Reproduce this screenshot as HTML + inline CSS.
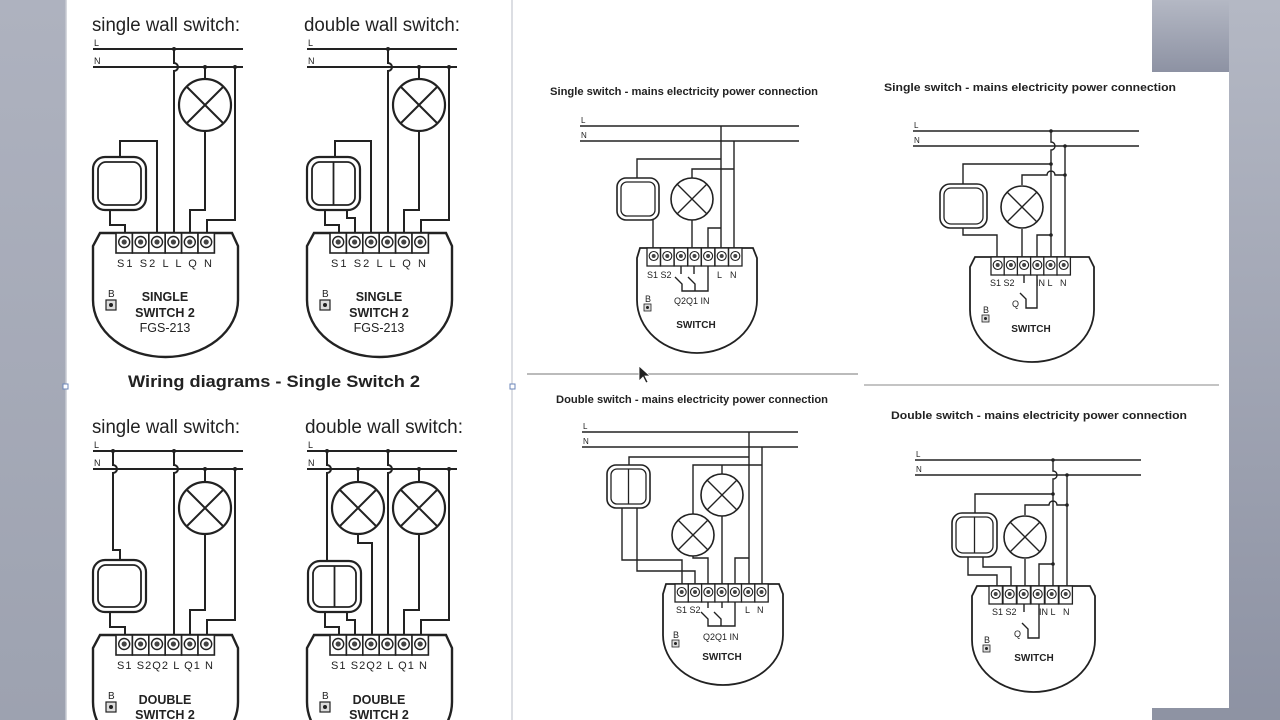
<!DOCTYPE html>
<html><head><meta charset="utf-8"><style>
html,body{margin:0;padding:0;width:1280px;height:720px;overflow:hidden;background:#fff}
#wrap{width:1280px;height:720px;overflow:hidden;position:relative}
svg{display:block;overflow:hidden}
text{font-family:"Liberation Sans",Arial,sans-serif;fill:#222}
.w{fill:none;stroke:#222;stroke-width:2}
.t{fill:none;stroke:#222;stroke-width:1.4}
.m{fill:#fff;stroke:#222;stroke-width:2.4}
.n{fill:#fff;stroke:#222;stroke-width:1.8}
</style></head><body><div id="wrap">
<svg width="1280" height="720" viewBox="0 0 1280 720" xmlns="http://www.w3.org/2000/svg">
<defs>
<clipPath id="cp"><rect x="0" y="0" width="1280" height="720"/></clipPath>
<linearGradient id="gl" x1="0" y1="0" x2="0" y2="1"><stop offset="0" stop-color="#aeb2bf"/><stop offset="1" stop-color="#9da2b0"/></linearGradient>
<linearGradient id="gr" x1="0" y1="0" x2="0" y2="1"><stop offset="0" stop-color="#b4b8c4"/><stop offset="1" stop-color="#8d92a3"/></linearGradient>
<g id="lampL"><circle r="26" fill="#fff" stroke="#222" stroke-width="2.2"/><path d="M-18,-18L18,18M18,-18L-18,18" stroke="#222" stroke-width="2"/></g>
<g id="lampS"><circle r="21" fill="#fff" stroke="#222" stroke-width="1.6"/><path d="M-15,-15L15,15M15,-15L-15,15" stroke="#222" stroke-width="1.4"/></g>
<g id="cellL"><rect x="0" y="0" width="16.4" height="20" fill="#fff" stroke="#222" stroke-width="1.6"/><circle cx="8.2" cy="9" r="5.5" fill="none" stroke="#222" stroke-width="1.4"/><circle cx="8.2" cy="9" r="2.6" fill="#444"/></g>
<g id="cellS"><rect x="0" y="0" width="13.4" height="18" fill="#fff" stroke="#222" stroke-width="1.3"/><circle cx="6.7" cy="8" r="4.5" fill="none" stroke="#222" stroke-width="1.1"/><circle cx="6.7" cy="8" r="2" fill="#444"/></g>
<g id="modL">
<path class="m" d="M100,233H232L238,246V300A72.5 57 0 0 1 93,300V246Z"/>
<use href="#cellL" x="116" y="233"/><use href="#cellL" x="132.4" y="233"/><use href="#cellL" x="148.8" y="233"/><use href="#cellL" x="165.2" y="233"/><use href="#cellL" x="181.6" y="233"/><use href="#cellL" x="198" y="233"/>
<text x="108" y="297" font-size="10">B</text>
<rect x="106" y="300" width="10" height="10" fill="#ddd" stroke="#222" stroke-width="1.2"/><circle cx="111" cy="305" r="2" fill="#222"/>
</g>
</defs>
<g clip-path="url(#cp)">
<rect x="0" y="0" width="66" height="720" fill="url(#gl)"/>
<rect x="1152" y="0" width="128" height="72" fill="url(#gr)"/>
<rect x="1229" y="0" width="51" height="720" fill="url(#gr)"/>
<rect x="1152" y="708" width="128" height="12" fill="#8e93a3"/>
<line x1="66" y1="0" x2="66" y2="720" stroke="#c7cad2" stroke-width="1.5"/>
<line x1="512" y1="0" x2="512" y2="720" stroke="#d0d3da" stroke-width="1.5"/>
<rect x="63" y="384" width="5" height="5" fill="#fff" stroke="#6b86b8"/>
<rect x="510" y="384" width="5" height="5" fill="#fff" stroke="#6b86b8"/>

<text x="92" y="31" font-size="19" textLength="148" lengthAdjust="spacingAndGlyphs">single wall switch:</text>
<text x="304" y="31" font-size="19" textLength="156" lengthAdjust="spacingAndGlyphs">double wall switch:</text>
<text x="128" y="387" font-size="17" font-weight="bold" textLength="292" lengthAdjust="spacingAndGlyphs">Wiring diagrams - Single Switch 2</text>
<text x="92" y="433" font-size="19" textLength="148" lengthAdjust="spacingAndGlyphs">single wall switch:</text>
<text x="305" y="433" font-size="19" textLength="158" lengthAdjust="spacingAndGlyphs">double wall switch:</text>

<g>
<text x="94" y="46" font-size="9">L</text><text x="94" y="64" font-size="9">N</text>
<path class="w" d="M93,49H243M93,67H243"/>
<path class="w" d="M174,49V63A4 4 0 0 1 174,71V233M205,67V79M205,131V210H190V233M235,67V220H207V233M120,157V141H157V233M110,210V225H125V233"/>
<circle cx="174" cy="49" r="2" fill="#222"/><circle cx="205" cy="67" r="2" fill="#222"/><circle cx="235" cy="67" r="2" fill="#222"/>
<use href="#lampL" x="205" y="105"/>
<rect x="93" y="157" width="53" height="53" rx="12" fill="#fff" stroke="#222" stroke-width="2.2"/>
<rect x="98" y="162" width="43" height="43" rx="8" fill="none" stroke="#222" stroke-width="1.8"/>
<use href="#modL"/>
<text x="117" y="267" font-size="11" textLength="95" lengthAdjust="spacing">S1 S2  L   L  Q  N</text>
<text x="165" y="301" font-size="12.5" font-weight="bold" text-anchor="middle">SINGLE</text>
<text x="165" y="317" font-size="12.5" font-weight="bold" text-anchor="middle">SWITCH 2</text>
<text x="165" y="332" font-size="12.5" text-anchor="middle">FGS-213</text>
</g>

<g>
<text x="308" y="46" font-size="9">L</text><text x="308" y="64" font-size="9">N</text>
<path class="w" d="M307,49H457M307,67H457"/>
<path class="w" d="M388,49V63A4 4 0 0 1 388,71V233M419,67V79M419,131V210H404V233M449,67V220H421V233M335,157V141H371V233M325,210V225H339V233M347,210V218H355V233"/>
<circle cx="388" cy="49" r="2" fill="#222"/><circle cx="419" cy="67" r="2" fill="#222"/><circle cx="449" cy="67" r="2" fill="#222"/>
<use href="#lampL" x="419" y="105"/>
<rect x="307" y="157" width="53" height="53" rx="12" fill="#fff" stroke="#222" stroke-width="2.2"/>
<rect x="312" y="162" width="43" height="43" rx="8" fill="none" stroke="#222" stroke-width="1.8"/>
<line x1="333.5" y1="162" x2="333.5" y2="205" stroke="#222" stroke-width="1.8"/>
<use href="#modL" x="214"/>
<text x="331" y="267" font-size="11" textLength="95" lengthAdjust="spacing">S1 S2  L   L  Q  N</text>
<text x="379" y="301" font-size="12.5" font-weight="bold" text-anchor="middle">SINGLE</text>
<text x="379" y="317" font-size="12.5" font-weight="bold" text-anchor="middle">SWITCH 2</text>
<text x="379" y="332" font-size="12.5" text-anchor="middle">FGS-213</text>
</g>

<g>
<text x="94" y="448" font-size="9">L</text><text x="94" y="466" font-size="9">N</text>
<path class="w" d="M93,451H243M93,469H243"/>
<path class="w" d="M113,451V465A4 4 0 0 1 113,473V550H120V560M174,451V465A4 4 0 0 1 174,473V635M205,469V482M205,534V610H190V635M235,469V620H207V635M110,611V627H125V635"/>
<circle cx="113" cy="451" r="2" fill="#222"/><circle cx="174" cy="451" r="2" fill="#222"/><circle cx="205" cy="469" r="2" fill="#222"/><circle cx="235" cy="469" r="2" fill="#222"/>
<use href="#lampL" x="205" y="508"/>
<rect x="93" y="560" width="53" height="52" rx="12" fill="#fff" stroke="#222" stroke-width="2.2"/>
<rect x="98" y="565" width="43" height="42" rx="8" fill="none" stroke="#222" stroke-width="1.8"/>
<use href="#modL" y="402"/>
<text x="117" y="669" font-size="11" textLength="96" lengthAdjust="spacing">S1 S2Q2 L Q1 N</text>
<text x="165" y="704" font-size="12.5" font-weight="bold" text-anchor="middle">DOUBLE</text>
<text x="165" y="719" font-size="12.5" font-weight="bold" text-anchor="middle">SWITCH 2</text>
</g>

<g>
<text x="308" y="448" font-size="9">L</text><text x="308" y="466" font-size="9">N</text>
<path class="w" d="M307,451H457M307,469H457"/>
<path class="w" d="M327,451V465A4 4 0 0 1 327,473V561M388,451V465A4 4 0 0 1 388,473V635M358,469V482M358,534V543H372V635M419,469V482M419,534V610H404V635M449,469V620H421V635M325,612V627H339V635M347,612V620H355V635"/>
<circle cx="327" cy="451" r="2" fill="#222"/><circle cx="388" cy="451" r="2" fill="#222"/><circle cx="358" cy="469" r="2" fill="#222"/><circle cx="419" cy="469" r="2" fill="#222"/><circle cx="449" cy="469" r="2" fill="#222"/>
<use href="#lampL" x="358" y="508"/><use href="#lampL" x="419" y="508"/>
<rect x="308" y="561" width="53" height="51" rx="12" fill="#fff" stroke="#222" stroke-width="2.2"/>
<rect x="313" y="566" width="43" height="41" rx="8" fill="none" stroke="#222" stroke-width="1.8"/>
<line x1="334.5" y1="566" x2="334.5" y2="607" stroke="#222" stroke-width="1.8"/>
<use href="#modL" x="214" y="402"/>
<text x="331" y="669" font-size="11" textLength="96" lengthAdjust="spacing">S1 S2Q2 L Q1 N</text>
<text x="379" y="704" font-size="12.5" font-weight="bold" text-anchor="middle">DOUBLE</text>
<text x="379" y="719" font-size="12.5" font-weight="bold" text-anchor="middle">SWITCH 2</text>
</g>

<line x1="527" y1="374" x2="858" y2="374" stroke="#777" stroke-width="1"/>
<line x1="864" y1="385" x2="1219" y2="385" stroke="#888" stroke-width="1"/>

<g>
<text x="550" y="95" font-size="11" font-weight="bold" textLength="268" lengthAdjust="spacingAndGlyphs">Single switch - mains electricity power connection</text>
<text x="581" y="123" font-size="8">L</text><text x="581" y="138" font-size="8">N</text>
<path class="t" d="M580,126H799M580,141H799"/>
<path class="t" d="M721,126V248M734,141V248M637,178V159H721M653,220V248M692,178V169H734M692,220V248M708,248V228H721"/>
<use href="#lampS" x="692" y="199"/>
<rect x="617" y="178" width="42" height="42" rx="9" fill="#fff" stroke="#222" stroke-width="1.6"/>
<rect x="621" y="182" width="34" height="34" rx="6" fill="none" stroke="#222" stroke-width="1.3"/>
<path class="n" d="M640,248H753L757,258V300A60 53 0 0 1 637,300V258Z"/>
<use href="#cellS" x="647" y="248"/><use href="#cellS" x="660.6" y="248"/><use href="#cellS" x="674.2" y="248"/><use href="#cellS" x="687.8" y="248"/><use href="#cellS" x="701.4" y="248"/><use href="#cellS" x="715" y="248"/><use href="#cellS" x="728.6" y="248"/>
<path class="t" d="M681,266V274M694,266V274M675,277L682,284V291H708V266M688,277L695,284V291"/>
<text x="647" y="278" font-size="9">S1 S2</text><text x="717" y="278" font-size="9">L</text><text x="730" y="278" font-size="9">N</text>
<text x="674" y="304" font-size="9">Q2Q1 IN</text>
<text x="645" y="302" font-size="9">B</text>
<rect x="644" y="304" width="7" height="7" fill="#ddd" stroke="#222" stroke-width="0.8"/><circle cx="647.5" cy="307.5" r="1.5" fill="#222"/>
<text x="696" y="328" font-size="10" font-weight="bold" text-anchor="middle">SWITCH</text>
</g>

<g>
<text x="884" y="91" font-size="11" font-weight="bold" textLength="292" lengthAdjust="spacingAndGlyphs">Single switch - mains electricity power connection</text>
<text x="914" y="128" font-size="8">L</text><text x="914" y="143" font-size="8">N</text>
<path class="t" d="M913,131H1139M913,146H1139"/>
<path class="t" d="M1051,131V142A4 4 0 0 1 1051,150V257M1065,146V257M963,184V164H1051M1022,185V175H1047A4 4 0 0 1 1055,175H1065M1022,229V257M963,228V235H997V257M1037,257V235H1051"/>
<circle cx="1051" cy="131" r="1.8" fill="#222"/><circle cx="1051" cy="164" r="1.8" fill="#222"/><circle cx="1051" cy="235" r="1.8" fill="#222"/><circle cx="1065" cy="146" r="1.8" fill="#222"/><circle cx="1065" cy="175" r="1.8" fill="#222"/>
<use href="#lampS" x="1022" y="207"/>
<rect x="940" y="184" width="47" height="44" rx="10" fill="#fff" stroke="#222" stroke-width="1.6"/>
<rect x="944" y="188" width="39" height="36" rx="7" fill="none" stroke="#222" stroke-width="1.3"/>
<path class="n" d="M975,257H1089L1094,267V310A62 52 0 0 1 970,310V267Z"/>
<use href="#cellS" x="991" y="257"/><use href="#cellS" x="1004.2" y="257"/><use href="#cellS" x="1017.4" y="257"/><use href="#cellS" x="1030.6" y="257"/><use href="#cellS" x="1043.8" y="257"/><use href="#cellS" x="1057" y="257"/>
<path class="t" d="M1024,275V283M1020,293L1026,299V308H1037V275"/>
<text x="990" y="286" font-size="9">S1 S2</text><text x="1036" y="286" font-size="9">IN L</text><text x="1060" y="286" font-size="9">N</text>
<text x="1012" y="307" font-size="9">Q</text>
<text x="983" y="313" font-size="9">B</text>
<rect x="982" y="315" width="7" height="7" fill="#ddd" stroke="#222" stroke-width="0.8"/><circle cx="985.5" cy="318.5" r="1.5" fill="#222"/>
<text x="1031" y="332" font-size="10" font-weight="bold" text-anchor="middle">SWITCH</text>
</g>

<g>
<text x="556" y="403" font-size="11" font-weight="bold" textLength="272" lengthAdjust="spacingAndGlyphs">Double switch - mains electricity power connection</text>
<text x="583" y="429" font-size="8">L</text><text x="583" y="444" font-size="8">N</text>
<path class="t" d="M582,432H798M582,447H798"/>
<path class="t" d="M749,432V584M762,447V584M629,465V457H749M693,514V465H762M722,465V474M693,556V558H708V584M722,516V584M735,584V558H749M622,508V560H682V584M637,508V571H695V584"/>
<use href="#lampS" x="722" y="495"/><use href="#lampS" x="693" y="535"/>
<rect x="607" y="465" width="43" height="43" rx="9" fill="#fff" stroke="#222" stroke-width="1.6"/>
<rect x="611" y="469" width="35" height="35" rx="6" fill="none" stroke="#222" stroke-width="1.3"/>
<line x1="628.5" y1="469" x2="628.5" y2="504" stroke="#222" stroke-width="1.3"/>
<path class="n" d="M666,584H779L783,594V635A60 50 0 0 1 663,635V594Z"/>
<use href="#cellS" x="675" y="584"/><use href="#cellS" x="688.3" y="584"/><use href="#cellS" x="701.6" y="584"/><use href="#cellS" x="714.9" y="584"/><use href="#cellS" x="728.2" y="584"/><use href="#cellS" x="741.5" y="584"/><use href="#cellS" x="754.8" y="584"/>
<path class="t" d="M708,602V608M722,602V608M701,612L708,619V626H735V602M714,612L721,619V626"/>
<text x="676" y="613" font-size="9">S1 S2</text><text x="745" y="613" font-size="9">L</text><text x="757" y="613" font-size="9">N</text>
<text x="703" y="640" font-size="9">Q2Q1 IN</text>
<text x="673" y="638" font-size="9">B</text>
<rect x="672" y="640" width="7" height="7" fill="#ddd" stroke="#222" stroke-width="0.8"/><circle cx="675.5" cy="643.5" r="1.5" fill="#222"/>
<text x="722" y="660" font-size="10" font-weight="bold" text-anchor="middle">SWITCH</text>
</g>

<g>
<text x="891" y="419" font-size="11" font-weight="bold" textLength="296" lengthAdjust="spacingAndGlyphs">Double switch - mains electricity power connection</text>
<text x="916" y="457" font-size="8">L</text><text x="916" y="472" font-size="8">N</text>
<path class="t" d="M915,460H1141M915,475H1141"/>
<path class="t" d="M1053,460V471A4 4 0 0 1 1053,479V586M1067,475V586M975,513V494H1053M1025,515V505H1049A4 4 0 0 1 1057,505H1067M1025,559V586M968,557V575H997V586M983,557V567H1011V586M1039,586V564H1053"/>
<circle cx="1053" cy="460" r="1.8" fill="#222"/><circle cx="1053" cy="494" r="1.8" fill="#222"/><circle cx="1053" cy="564" r="1.8" fill="#222"/><circle cx="1067" cy="475" r="1.8" fill="#222"/><circle cx="1067" cy="505" r="1.8" fill="#222"/>
<use href="#lampS" x="1025" y="537"/>
<rect x="952" y="513" width="45" height="44" rx="10" fill="#fff" stroke="#222" stroke-width="1.6"/>
<rect x="956" y="517" width="37" height="36" rx="7" fill="none" stroke="#222" stroke-width="1.3"/>
<line x1="974.5" y1="517" x2="974.5" y2="553" stroke="#222" stroke-width="1.3"/>
<path class="n" d="M977,586H1090L1095,596V640A61.5 52 0 0 1 972,640V596Z"/>
<use href="#cellS" x="989" y="586"/><use href="#cellS" x="1003" y="586"/><use href="#cellS" x="1017" y="586"/><use href="#cellS" x="1031" y="586"/><use href="#cellS" x="1045" y="586"/><use href="#cellS" x="1059" y="586"/>
<path class="t" d="M1024,604V612M1022,623L1028,629V638H1039V604"/>
<text x="992" y="615" font-size="9">S1 S2</text><text x="1039" y="615" font-size="9">IN L</text><text x="1063" y="615" font-size="9">N</text>
<text x="1014" y="637" font-size="9">Q</text>
<text x="984" y="643" font-size="9">B</text>
<rect x="983" y="645" width="7" height="7" fill="#ddd" stroke="#222" stroke-width="0.8"/><circle cx="986.5" cy="648.5" r="1.5" fill="#222"/>
<text x="1034" y="661" font-size="10" font-weight="bold" text-anchor="middle">SWITCH</text>
</g>

<path d="M639,366L639,381L643,377L646,383L648,382L645,376L650,376Z" fill="#222" stroke="#fff" stroke-width="0.8"/>
</g>
</svg>
</div></body></html>
